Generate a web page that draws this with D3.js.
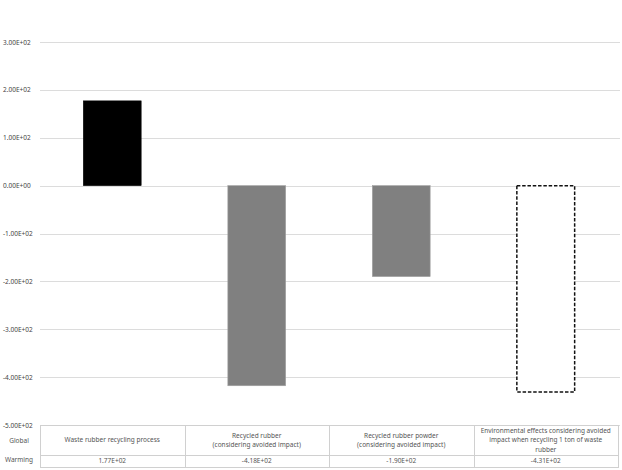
<!DOCTYPE html>
<html>
<head>
<meta charset="utf-8">
<script src="https://cdn.jsdelivr.net/npm/d3@7"></script>
<style>
  body { margin: 0; background: #fff; }
  svg { display: block; font-family: "Noto Sans", "Noto Sans CJK KR", sans-serif; }
</style>
</head>
<body>
<svg class="container" width="622" height="470"></svg>
<script>
let categories = [
    ["Waste rubber recycling process"],
    ["Recycled rubber", "(considering avoided impact)"],
    ["Recycled rubber powder", "(considering avoided impact)"],
    ["Environmental effects considering avoided", "impact when recycling 1 ton of waste", "rubber"]
];
let values = [177, -418, -190, -431];
let valueLabels = ["1.77E+02", "-4.18E+02", "-1.90E+02", "-4.31E+02"];
let barStyles = ["black", "gray", "gray", "dashed"];
let yTicks = [300, 200, 100, 0, -100, -200, -300, -400, -500];
let rowLabel = ["Global", "Warming"];

let plotLeft = 40, plotRight = 618;
let plotTop = 42, plotBottom = 425;
let rowTop = 425, rowMid = 455, rowBottom = 467;

let svg = d3.select(".container");

let x = d3.scaleBand()
    .domain(d3.range(values.length))
    .range([plotLeft, plotRight])
    .paddingInner(0.6)
    .paddingOuter(0.3);

let y = d3.scaleLinear()
    .domain([-500, 300])
    .range([plotBottom, plotTop]);

function tickFormat(v) {
    let s = Math.abs(v).toExponential(2).toUpperCase().replace(/E([+-])(\d)$/, "E$10$2");
    return (v < 0 ? "-" : "") + s;
}

// gridlines
svg.append("g")
    .selectAll("line")
    .data(yTicks)
    .enter()
    .append("line")
    .attr("x1", 40)
    .attr("x2", 620)
    .attr("y1", d => Math.round(y(d)) + 0.5)
    .attr("y2", d => Math.round(y(d)) + 0.5)
    .style("stroke", "#dcdcdc")
    .style("stroke-width", 1);

// y labels
svg.append("g")
    .selectAll("text")
    .data(yTicks)
    .enter()
    .append("text")
    .attr("x", 3)
    .attr("y", d => y(d) + 2.5)
    .text(d => tickFormat(d))
    .style("font-size", "6.5px")
    .style("fill", "#444");

// bars
svg.append("g")
    .selectAll("rect")
    .data(values)
    .enter()
    .append("rect")
    .attr("x", (d, i) => x(i))
    .attr("width", x.bandwidth())
    .attr("y", d => y(Math.max(0, d)))
    .attr("height", d => Math.abs(y(d) - y(0)))
    .style("fill", (d, i) => barStyles[i] == "black" ? "#000" : barStyles[i] == "gray" ? "#808080" : "#fff")
    .style("stroke", (d, i) => barStyles[i] == "dashed" ? "#111" : barStyles[i] == "gray" ? "#a0a0a0" : "#000")
    .style("stroke-width", (d, i) => barStyles[i] == "dashed" ? 1.5 : 0.6)
    .style("stroke-dasharray", (d, i) => barStyles[i] == "dashed" ? "3.5,1.8" : null);

// data table
let table = svg.append("g");
let step = x.step();
let colEdges = d3.range(values.length + 1).map(i => i == values.length ? plotRight : plotLeft + i * step);

table.append("rect")
    .attr("x", plotLeft + 0.5)
    .attr("y", rowTop + 0.5)
    .attr("width", plotRight - plotLeft)
    .attr("height", rowBottom - rowTop)
    .style("fill", "none")
    .style("stroke", "#d0d0d0");

table.append("line")
    .attr("x1", plotLeft).attr("x2", plotRight)
    .attr("y1", rowMid + 0.5).attr("y2", rowMid + 0.5)
    .style("stroke", "#d0d0d0");

table.selectAll(".col")
    .data(colEdges.slice(1, -1))
    .enter()
    .append("line")
    .attr("class", "col")
    .attr("x1", d => Math.round(d) + 0.5).attr("x2", d => Math.round(d) + 0.5)
    .attr("y1", rowTop).attr("y2", rowBottom)
    .style("stroke", "#d0d0d0");

categories.forEach((lines, i) => {
    let cx = (colEdges[i] + colEdges[i + 1]) / 2;
    let lh = 9.5;
    let y0 = (rowTop + rowMid) / 2 - (lines.length - 1) * lh / 2 + 2.3;
    table.append("text")
        .attr("text-anchor", "middle")
        .style("font-size", "6.5px")
        .style("fill", "#555")
        .selectAll("tspan")
        .data(lines)
        .enter()
        .append("tspan")
        .attr("x", cx)
        .attr("y", (d, j) => y0 + j * lh)
        .text(d => d);
    table.append("text")
        .attr("x", cx)
        .attr("y", (rowMid + rowBottom) / 2 + 2.3)
        .attr("text-anchor", "middle")
        .style("font-size", "6.5px")
        .style("fill", "#555")
        .text(valueLabels[i]);
});

table.append("text")
    .attr("text-anchor", "middle")
    .style("font-size", "6.5px")
    .style("fill", "#555")
    .selectAll("tspan")
    .data(rowLabel)
    .enter()
    .append("tspan")
    .attr("x", 19)
    .attr("y", (d, j) => 443 + j * 19)
    .text(d => d);
</script>
</body>
</html>
